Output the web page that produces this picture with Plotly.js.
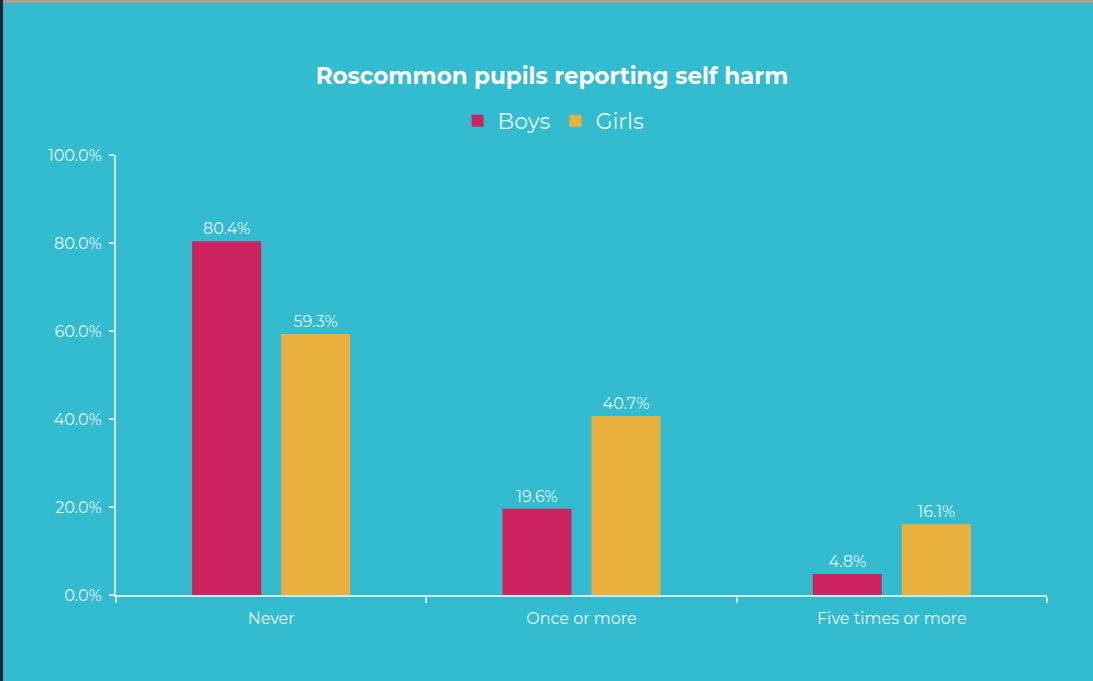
<!DOCTYPE html>
<html>
<head>
<meta charset="utf-8">
<script src="https://cdn.plot.ly/plotly-3.0.1.min.js"></script>
<style>
html,body{margin:0;padding:0;background:#33BBCF;}
#chart{width:1093px;height:681px;}
#topstrip{position:absolute;left:0;top:0;width:1093px;height:3px;background:#B59C86;z-index:5;}
#leftstrip{position:absolute;left:0;top:0;width:3px;height:681px;background:#1B2630;z-index:6;}
</style>
</head>
<body>
<div id="chart"></div>
<div id="topstrip"></div>
<div id="leftstrip"></div>
<script>
const categories = ["Never", "Once or more", "Five times or more"];
const boys = [80.4, 19.6, 4.8];
const girls = [59.3, 40.7, 16.1];
const seriesNames = ["Boys", "Girls"];

const txtColor = "#E4F5F8";
const lineColor = "#CBEBF1";
const fontFam = "Montserrat, 'Open Sans', Lato, sans-serif";

const traces = [
  {type: "bar", name: seriesNames[0], x: categories, y: boys, marker: {color: "#CC235E"},
   texttemplate: "%{y:.1f}%", textposition: "outside", textfont: {color: txtColor, size: 16, family: fontFam}, cliponaxis: false, hoverinfo: "none"},
  {type: "bar", name: seriesNames[1], x: categories, y: girls, marker: {color: "#EAB13F"},
   texttemplate: "%{y:.1f}%", textposition: "outside", textfont: {color: txtColor, size: 16, family: fontFam}, cliponaxis: false, hoverinfo: "none"}
];

const layout = {
  width: 1093, height: 681,
  paper_bgcolor: "#33BBCF", plot_bgcolor: "#33BBCF",
  margin: {l: 116, r: 46, t: 155, b: 86},
  font: {family: fontFam, color: txtColor},
  title: {text: "<b>Roscommon pupils reporting self harm</b>", x: 0.505, xanchor: "center", y: 1 - 76/681, yanchor: "middle",
          font: {size: 23, color: "#FFFFFF", family: fontFam}},
  barmode: "group", bargap: 0.426, bargroupgap: 0.225,
  showlegend: true,
  legend: {orientation: "h", x: 0.47, xanchor: "center", y: 1 + 34/440, yanchor: "middle",
           font: {size: 22, color: txtColor, family: fontFam}, itemwidth: 30, traceorder: "normal", bgcolor: "rgba(0,0,0,0)"},
  xaxis: {showline: true, linecolor: lineColor, linewidth: 2, ticks: "outside", tickson: "boundaries", ticklen: 6, tickcolor: lineColor, tickwidth: 2,
          ticklabelstandoff: 8,
          tickfont: {size: 16, color: txtColor, family: fontFam}, showgrid: false, zeroline: false},
  yaxis: {range: [0, 100], dtick: 20, tickformat: ".1f", ticksuffix: "%", showline: true, linecolor: lineColor, linewidth: 2,
          ticks: "outside", ticklen: 5, tickcolor: lineColor, tickwidth: 2, showgrid: false, zeroline: false,
          ticklabelstandoff: 4,
          tickfont: {size: 16, color: txtColor, family: fontFam}}
};

Plotly.newPlot("chart", traces, layout, {displayModeBar: false, staticPlot: true});
</script>
</body>
</html>
